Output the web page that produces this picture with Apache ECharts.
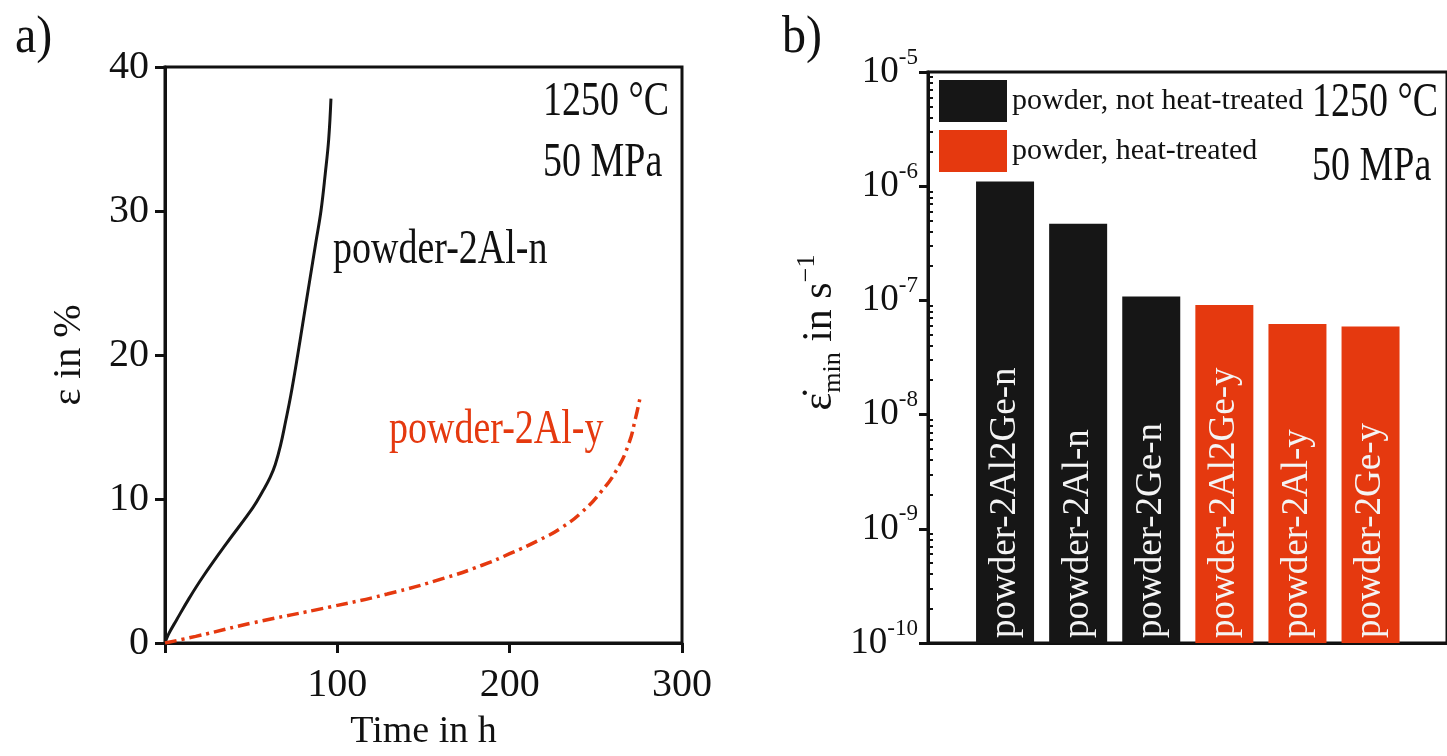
<!DOCTYPE html>
<html>
<head>
<meta charset="utf-8">
<script src="https://cdn.jsdelivr.net/npm/echarts@6/dist/echarts.min.js"></script>
<style>
html,body{margin:0;padding:0;background:#fff;}
#c{width:1447px;height:756px;}
</style>
</head>
<body>
<div id="c"></div>
<script>
// ---- Panel a data (creep curves) ----
const timeBlack   = [0, 2, 6.7, 14, 22, 35.6, 51, 57, 61, 64, 67, 70, 73, 77, 80.5, 84, 87.5, 90.5, 93, 95, 96.3];
const strainBlack = [0, 0.6, 1.6, 3.1, 4.6, 6.9, 9.4, 10.6, 11.5, 12.4, 13.7, 15.4, 17.2, 20.0, 22.6, 25.2, 27.8, 30.0, 32.6, 35.0, 37.8];
const timeRed     = [0, 17.8, 51, 95.6, 129, 162, 184, 200, 218, 230, 242, 253, 262, 269, 273, 275.6];
const strainRed   = [0, 0.46, 1.4, 2.5, 3.4, 4.5, 5.4, 6.2, 7.2, 8.0, 9.1, 10.5, 12.0, 13.8, 15.6, 17.0];
const xTicksA = [0, 100, 200, 300];
const yTicksA = [0, 10, 20, 30, 40];

// ---- Panel b data (minimum creep rates) ----
const categories = ['powder-2Al2Ge-n', 'powder-2Al-n', 'powder-2Ge-n', 'powder-2Al2Ge-y', 'powder-2Al-y', 'powder-2Ge-y'];
const rateNotTreated = [1.1e-6, 4.7e-7, 1.08e-7];
const rateTreated    = [9.1e-8, 6.2e-8, 5.9e-8];
const legendNames = ['powder, not heat-treated', 'powder, heat-treated'];
const rateAxisMin = 1e-10;
const rateAxisMax = 1e-5;

const BLACK = '#161616';
const RED = '#e5390f';
const FONT = '"Liberation Serif", "DejaVu Serif", serif';

const zip = (a, b) => a.map((v, i) => [v, b[i]]);

const minorVals = [];
for (let e = -10; e < -5; e++) {
  for (let m = 2; m <= 9; m++) minorVals.push(m * Math.pow(10, e));
}

const padNA = n => new Array(n).fill('-');
const seriesNot = rateNotTreated.concat(padNA(rateTreated.length));
const seriesYes = padNA(rateNotTreated.length).concat(rateTreated);
// invisible stack base so bars grow from the bottom of the log axis
const seriesBase = categories.map(() => rateAxisMin);

const chart = echarts.init(document.getElementById('c'), null, {renderer: 'canvas'});

const txt = (x, y, text, opts) => ({
  type: 'text', x: x, y: y, scaleY: opts.scaleY || 1.3,
  style: {
    text: text, fontSize: opts.size || 38, fontFamily: FONT,
    fill: opts.color || '#111', align: opts.align || 'left', verticalAlign: 'middle'
  }
});

const barLabel = {
  show: true, position: 'insideBottom', distance: 5, rotate: 90, align: 'left', verticalAlign: 'middle',
  formatter: '{b}', fontSize: 37, color: '#f4f4f4', fontFamily: FONT
};

const option = {
  backgroundColor: '#fff',
  animation: false,
  textStyle: {fontFamily: FONT},
  grid: [
    {left: 165, top: 67, width: 517, height: 580, show: true, borderColor: '#111', borderWidth: 3, backgroundColor: 'transparent'},
    {left: 928, top: 72, right: -30, bottom: 113, show: true, borderColor: '#111', borderWidth: 3, backgroundColor: 'transparent'},
    {left: 968.5, top: 72, width: 438.6, bottom: 113}
  ],
  xAxis: [
    {
      gridIndex: 0, type: 'value', min: xTicksA[0], max: xTicksA[xTicksA.length - 1], interval: 100,
      axisLine: {show: true, onZero: false, lineStyle: {color: '#111', width: 3}},
      axisTick: {show: true, inside: false, length: 10, lineStyle: {color: '#111', width: 3}},
      axisLabel: {fontSize: 40, color: '#111', fontFamily: FONT, margin: 22,
        formatter: v => (v === 0 ? '' : String(v))},
      splitLine: {show: false},
      name: 'Time in h', nameLocation: 'middle', nameGap: 70,
      nameTextStyle: {fontSize: 38, color: '#111', fontFamily: FONT}
    },
    {
      gridIndex: 1, type: 'value', min: 0, max: 1,
      axisLine: {show: true, lineStyle: {color: '#111', width: 3}},
      axisTick: {show: false}, axisLabel: {show: false}, splitLine: {show: false}
    },
    {
      gridIndex: 2, type: 'category', data: categories,
      axisLine: {show: false}, axisTick: {show: false}, axisLabel: {show: false}, splitLine: {show: false}
    }
  ],
  yAxis: [
    {
      gridIndex: 0, type: 'value', min: yTicksA[0], max: yTicksA[yTicksA.length - 1], interval: 10,
      axisLine: {show: true, onZero: false, lineStyle: {color: '#111', width: 3}},
      axisTick: {show: true, inside: false, length: 10, lineStyle: {color: '#111', width: 3}},
      axisLabel: {fontSize: 40, color: '#111', fontFamily: FONT, margin: 16},
      splitLine: {show: false},
      name: 'ε in %', nameLocation: 'middle', nameGap: 76,
      nameTextStyle: {fontSize: 40, color: '#111', fontFamily: FONT}
    },
    {
      gridIndex: 1, type: 'log', min: rateAxisMin, max: rateAxisMax, logBase: 10,
      axisLine: {show: true, lineStyle: {color: '#111', width: 3}},
      axisTick: {show: true, inside: false, length: 9, lineStyle: {color: '#111', width: 3}},
      axisLabel: {
        margin: 10, color: '#111', fontFamily: FONT,
        formatter: v => '{b|10}{s|' + Math.round(Math.log10(v)) + '}',
        rich: {
          b: {fontSize: 37, lineHeight: 52, color: '#111', fontFamily: FONT, verticalAlign: 'middle'},
          s: {fontSize: 23, lineHeight: 22, color: '#111', fontFamily: FONT, verticalAlign: 'top'}
        }
      },
      splitLine: {show: false},
      name: '{e|ε\u0307}{sub|min}{t| in s}{sup|\u22121}',
      nameLocation: 'middle', nameGap: 72,
      nameTextStyle: {
        color: '#111', fontFamily: FONT, padding: [0, 0, 0, 50],
        rich: {
          e: {fontSize: 42, lineHeight: 52, fontFamily: FONT, color: '#111'},
          sub: {fontSize: 26, lineHeight: 24, fontFamily: FONT, color: '#111', verticalAlign: 'bottom'},
          t: {fontSize: 42, lineHeight: 52, fontFamily: FONT, color: '#111'},
          sup: {fontSize: 26, lineHeight: 24, fontFamily: FONT, color: '#111', verticalAlign: 'top'}
        }
      }
    },
    {
      gridIndex: 1, type: 'log', min: rateAxisMin, max: rateAxisMax, logBase: 10, position: 'left',
      axisLine: {show: false}, axisLabel: {show: false}, splitLine: {show: false},
      axisTick: {show: true, inside: true, length: 5, customValues: minorVals, lineStyle: {color: '#111', width: 2}}
    },
    {
      gridIndex: 2, type: 'log', min: rateAxisMin, max: rateAxisMax, logBase: 10,
      axisLine: {show: false}, axisTick: {show: false}, axisLabel: {show: false}, splitLine: {show: false}
    }
  ],
  legend: {
    data: legendNames, orient: 'vertical', left: 939, top: 80, padding: 0,
    itemWidth: 68, itemHeight: 42, itemGap: 8, icon: 'rect', selectedMode: false,
    textStyle: {fontSize: 30, color: '#111', fontFamily: FONT}
  },
  series: [
    {
      type: 'line', xAxisIndex: 0, yAxisIndex: 0, data: zip(timeBlack, strainBlack),
      smooth: 0.4, showSymbol: false, symbol: 'none',
      lineStyle: {color: BLACK, width: 3}
    },
    {
      type: 'line', xAxisIndex: 0, yAxisIndex: 0, data: zip(timeRed, strainRed),
      smooth: 0.5, showSymbol: false, symbol: 'none',
      lineStyle: {color: RED, width: 3.5, type: [12, 5, 3, 5]}
    },
    {
      name: 'base', type: 'bar', xAxisIndex: 2, yAxisIndex: 3, data: seriesBase, stack: 'rate',
      barWidth: 58, silent: true, itemStyle: {color: 'rgba(0,0,0,0)'}, label: {show: false}
    },
    {
      name: legendNames[0], type: 'bar', xAxisIndex: 2, yAxisIndex: 3, data: seriesNot, stack: 'rate',
      barWidth: 58, itemStyle: {color: BLACK}, label: barLabel
    },
    {
      name: legendNames[1], type: 'bar', xAxisIndex: 2, yAxisIndex: 3, data: seriesYes, stack: 'rate',
      barWidth: 58, itemStyle: {color: RED}, label: barLabel
    }
  ],
  graphic: [
    txt(15, 38, 'a)', {size: 48, scaleY: 1.1}),
    txt(782, 38, 'b)', {size: 48, scaleY: 1.1}),
    txt(543, 102, '1250 °C', {}),
    txt(543, 163, '50 MPa', {}),
    txt(333, 250, 'powder-2Al-n', {}),
    txt(389, 430, 'powder-2Al-y', {color: RED}),
    txt(1312, 103, '1250 °C', {}),
    txt(1312, 167, '50 MPa', {})
  ]
};

chart.setOption(option);
</script>
</body>
</html>
